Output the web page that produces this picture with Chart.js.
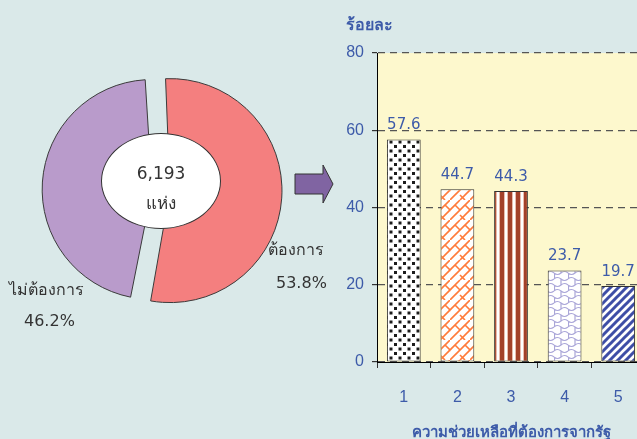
<!DOCTYPE html>
<html>
<head>
<meta charset="utf-8">
<script src="https://cdn.jsdelivr.net/npm/chart.js@4.4.1/dist/chart.umd.min.js"></script>
<style>
  html, body { margin: 0; padding: 0; }
  body {
    width: 637px; height: 439px; overflow: hidden; position: relative;
    background: #dae9e9;
    font-family: Tahoma, "DejaVu Sans", "Noto Sans", sans-serif;
  }
  #pieBox { position: absolute; left: 0; top: 0; width: 322px; height: 380px; }
  #barBox { position: absolute; left: 330px; top: 0; width: 330px; height: 439px; }
  #hole {
    position: absolute; left: 101px; top: 133px; width: 120px; height: 96px;
    box-sizing: border-box; border: 1px solid #333; border-radius: 50%; background: #fff;
  }
  .lbl { position: absolute; color: #333; font-size: 16px; line-height: 18px; white-space: nowrap; }
  .big { font-size: 17px; line-height: 20px; width: 120px; left: 101px; text-align: center; }
  #unit { position: absolute; left: 346px; top: 15px; color: #3d5ba9; font-size: 16px; line-height: 20px; font-weight: bold; }
  #arrow { position: absolute; left: 0; top: 0; }
</style>
</head>
<body>
<div id="pieBox"><canvas id="pie" width="322" height="380"></canvas></div>
<div id="hole"></div>
<div class="lbl big" style="top:163px">6,193</div>
<div class="lbl big" style="top:193px">แห่ง</div>
<div class="lbl" style="left:268px; top:241px">ต้องการ</div>
<div class="lbl" style="left:276px; top:274px">53.8%</div>
<div class="lbl" style="left:9px; top:281px">ไม่ต้องการ</div>
<div class="lbl" style="left:24px; top:312px">46.2%</div>
<svg id="arrow" width="340" height="220">
  <polygon points="295,174 323,174 323,165 333,184 323,203 323,194 295,194" fill="#8064a2" stroke="#333" stroke-width="1"/>
</svg>
<div id="barBox"><canvas id="bars" width="330" height="439"></canvas></div>
<div id="unit">ร้อยละ</div>
<script>
// need for government help (pie) and type of help (bars)
const pieLabels = ["ต้องการ", "ไม่ต้องการ"];
const pieShares = [53.8, 46.2];
const pieColors = ["#f47f7f", "#b99bcb"];

const helpTypes = ["1", "2", "3", "4", "5"];
const helpShares = [57.6, 44.7, 44.3, 23.7, 19.7];
const yTicks = [0, 20, 40, 60, 80];

const blue = "#3d5ba9";

function makePattern(w, h, draw) {
  const c = document.createElement("canvas");
  c.width = w; c.height = h;
  const g = c.getContext("2d");
  g.fillStyle = "#fff";
  g.fillRect(0, 0, w, h);
  draw(g);
  return g.createPattern(c, "repeat");
}

function line(g, x1, y1, x2, y2) {
  g.beginPath(); g.moveTo(x1, y1); g.lineTo(x2, y2); g.stroke();
}

const patterns = [
  // black dots
  makePattern(9, 9, g => {
    g.fillStyle = "#1c1c1c";
    g.fillRect(1, 1, 3, 3);
    g.fillRect(5.5, 5.5, 3, 3);
  }),
  // orange diagonal bricks
  makePattern(20, 20, g => {
    g.strokeStyle = "#ff7b3b"; g.lineWidth = 1.6;
    line(g, 0, 20, 20, 0);
    line(g, -10, 20, 10, 0);
    line(g, 10, 20, 30, 0);
    line(g, 5, 5, 10, 10);
    line(g, 15, 5, 20, 10);
    line(g, -5, 5, 0, 10);
    line(g, 10, 15, 15, 20);
  }),
  // brown vertical stripes
  makePattern(8, 8, g => {
    g.fillStyle = "#e9bcae"; g.fillRect(1, 0, 6, 8);
    g.fillStyle = "#a3412a"; g.fillRect(2, 0, 4, 8);
  }),
  // lavender scales
  makePattern(14, 12, g => {
    g.strokeStyle = "#aaa6d8"; g.lineWidth = 1.2;
    g.beginPath();
    g.moveTo(0, 3); g.quadraticCurveTo(3.5, 0, 7, 3); g.quadraticCurveTo(10.5, 6, 14, 3);
    g.moveTo(0, 9); g.quadraticCurveTo(3.5, 12, 7, 9); g.quadraticCurveTo(10.5, 6, 14, 9);
    g.moveTo(7, 3); g.lineTo(7, 9);
    g.moveTo(0.5, 9); g.lineTo(0.5, 12);
    g.moveTo(0.5, 0); g.lineTo(0.5, 3);
    g.stroke();
  }),
  // blue diagonal stripes
  makePattern(8, 8, g => {
    g.strokeStyle = "#3e4ea6"; g.lineWidth = 3;
    line(g, -2, 10, 10, -2);
    line(g, -6, 6, 6, -6);
    line(g, 2, 14, 14, 2);
  })
];

// white hole is drawn as a separate oval, like the original
new Chart(document.getElementById("pie"), {
  type: "doughnut",
  data: {
    labels: pieLabels,
    datasets: [{
      data: pieShares,
      backgroundColor: pieColors,
      borderColor: "#3a3a3a",
      borderWidth: 1,
      offset: 36,
      radius: 103,
      cutout: "25%"
    }]
  },
  options: {
    responsive: false,
    animation: false,
    rotation: -3,
    events: [],
    plugins: { legend: { display: false }, tooltip: { enabled: false } }
  }
});

const plotBg = {
  id: "plotBg",
  beforeDraw(chart) {
    const { ctx, chartArea: a } = chart;
    ctx.save();
    ctx.fillStyle = "#fdf8cd";
    ctx.fillRect(a.left, a.top, a.right - a.left, a.bottom - a.top);
    ctx.restore();
  }
};

const valueLabels = {
  id: "valueLabels",
  afterDatasetsDraw(chart) {
    const ctx = chart.ctx;
    const meta = chart.getDatasetMeta(0);
    ctx.save();
    ctx.font = "15px Tahoma, 'DejaVu Sans', sans-serif";
    ctx.fillStyle = blue;
    ctx.textAlign = "center";
    ctx.textBaseline = "middle";
    meta.data.forEach((bar, i) => {
      ctx.fillText(helpShares[i].toFixed(1), bar.x, bar.y - 14);
    });
    ctx.restore();
  }
};

new Chart(document.getElementById("bars"), {
  type: "bar",
  data: {
    labels: helpTypes,
    datasets: [{
      data: helpShares,
      backgroundColor: patterns,
      borderColor: "#333",
      borderWidth: 1,
      borderSkipped: false,
      barPercentage: 0.63,
      categoryPercentage: 1
    }]
  },
  options: {
    responsive: false,
    animation: false,
    events: [],
    layout: { padding: { top: 53, right: 15, left: 0, bottom: 0 } },
    plugins: { legend: { display: false }, tooltip: { enabled: false } },
    scales: {
      x: {
        grid: { drawOnChartArea: false, tickLength: 6, tickColor: "#333" },
        border: { color: "#000", width: 1 },
        ticks: { color: blue, font: { size: 16 }, padding: 20 },
        title: {
          display: true, text: "ความช่วยเหลือที่ต้องการจากรัฐ",
          color: blue, font: { size: 15, weight: "bold" }, padding: { top: 0, bottom: -3 }
        },
        afterFit(s) { s.height = 77; }
      },
      y: {
        min: 0, max: 80,
        afterBuildTicks(s) { s.ticks = yTicks.map(v => ({ value: v })); },
        grid: { color: "#555", lineWidth: 1.2, tickLength: 5, tickColor: "#333", tickBorderDash: [] },
        border: { color: "#000", width: 1, dash: [7, 5] },
        ticks: { color: blue, font: { size: 16 }, padding: 8 },
        afterFit(s) { s.width = 47; }
      }
    }
  },
  plugins: [plotBg, valueLabels]
});
</script>
</body>
</html>
